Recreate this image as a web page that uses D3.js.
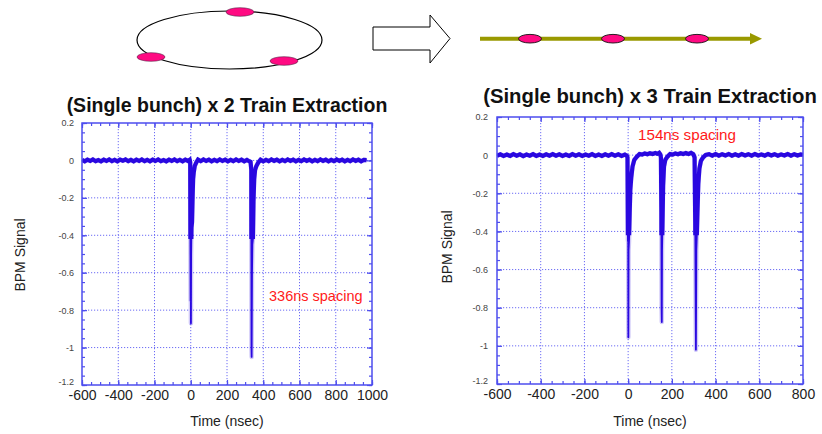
<!DOCTYPE html>
<html><head><meta charset="utf-8">
<script src="https://cdn.jsdelivr.net/npm/d3@7"></script>
<style>body{margin:0;background:#fff}svg{display:block}</style>
</head><body>
<svg id="c" width="822" height="434"></svg>
<script>
// ---- data ----
const leftXTicks = [-600,-400,-200,0,200,400,600,800,1000];
const rightXTicks = [-600,-400,-200,0,200,400,600,800];
const yTicks = [0.2,0,-0.2,-0.4,-0.6,-0.8,-1,-1.2];
const leftTitle = "(Single bunch) x 2 Train Extraction";
const rightTitle = "(Single bunch) x 3 Train Extraction";
const leftNote = "336ns spacing";
const rightNote = "154ns spacing";
const xLabel = "Time (nsec)";
const yLabel = "BPM Signal";

// BPM trace, 2-bunch train: [time ns, signal]
const leftTrace = [
[-600,0.003],[-585,-0.005],[-570,0.004],[-555,-0.003],[-540,0.005],[-525,-0.004],[-510,0.002],[-495,-0.005],
[-480,0.004],[-465,-0.003],[-450,0.005],[-435,-0.004],[-420,0.003],[-405,-0.005],[-390,0.004],[-375,-0.002],
[-360,0.005],[-345,-0.004],[-330,0.003],[-315,-0.005],[-300,0.004],[-285,-0.003],[-270,0.005],[-255,-0.004],
[-240,0.003],[-225,-0.005],[-210,0.004],[-195,-0.003],[-180,0.005],[-165,-0.004],[-150,0.002],[-135,-0.005],
[-120,0.004],[-105,-0.003],[-90,0.005],[-75,-0.004],[-60,0.003],[-45,-0.005],[-30,0.004],[-15,-0.003],[-6,0.003],[-3,-0.01],
[-1,-0.75],[0,-0.3],[1,-0.87],[2,-0.5],[4,-0.36],[7,-0.33],[10,-0.2],[13,-0.1],[17,-0.06],[22,-0.03],[30,-0.012],
[40,0.004],[55,-0.004],[70,0.005],[85,-0.003],[100,0.004],[115,-0.005],[130,0.003],[145,-0.004],[160,0.005],
[175,-0.003],[190,0.004],[205,-0.005],[220,0.003],[235,-0.004],[250,0.005],[265,-0.003],[280,0.004],[295,-0.005],
[310,0.003],[322,-0.004],[330,-0.008],
[334,-0.05],[335,-1.0],[336,-1.05],[338,-0.6],[340,-0.45],[343,-0.42],[346,-0.22],[350,-0.1],[355,-0.05],[362,-0.03],[372,-0.012],
[385,0.004],[400,-0.005],[415,0.003],[430,-0.004],[445,0.005],[460,-0.003],[475,0.004],[490,-0.005],[505,0.003],
[520,-0.004],[535,0.005],[550,-0.003],[565,0.004],[580,-0.005],[595,0.003],[610,-0.004],[625,0.005],[640,-0.003],
[655,0.004],[670,-0.005],[685,0.003],[700,-0.004],[715,0.005],[730,-0.003],[745,0.004],[760,-0.005],[775,0.003],
[790,-0.004],[805,0.005],[820,-0.003],[835,0.004],[850,-0.005],[865,0.003],[880,-0.004],[895,0.005],[910,-0.003],
[925,0.004],[940,-0.005],[955,0.003],[970,0.002]
];

// BPM trace, 3-bunch train: [time ns, signal]
const rightTrace = [
[-600,-0.003],[-585,0.004],[-570,-0.004],[-555,0.003],[-540,-0.004],[-525,0.005],[-510,-0.003],[-495,0.004],
[-480,-0.005],[-465,0.003],[-450,-0.003],[-435,0.005],[-420,-0.004],[-405,0.003],[-390,-0.004],[-375,0.004],
[-360,-0.003],[-345,0.005],[-330,-0.003],[-315,0.004],[-300,-0.004],[-285,0.003],[-270,-0.004],[-255,0.005],
[-240,-0.003],[-225,0.004],[-210,-0.004],[-195,0.003],[-180,-0.003],[-165,0.005],[-150,-0.004],[-135,0.003],
[-120,-0.004],[-105,0.004],[-90,-0.003],[-75,0.005],[-60,-0.003],[-45,0.004],[-30,-0.004],[-15,0.003],[-6,-0.003],[-3,-0.012],
[-1,-0.45],[0,-0.2],[1,-0.955],[2,-0.5],[4,-0.45],[7,-0.3],[10,-0.18],[14,-0.12],[20,-0.06],[28,-0.025],[40,-0.008],
[52,0.006],[64,0.003],[76,0.009],[88,0.005],[100,0.01],[112,0.006],[124,0.011],[134,0.007],[142,0.012],[147,0.004],[150,-0.012],
[152,-0.3],[153,-0.8],[154,-0.875],[155,-0.5],[157,-0.37],[160,-0.16],[164,-0.06],[170,-0.025],[180,-0.008],
[192,0.006],[204,0.003],[216,0.009],[228,0.005],[240,0.01],[252,0.006],[264,0.011],[276,0.006],[288,0.012],[298,0.005],[304,-0.012],
[307,-0.35],[309,-0.8],[310,-1.02],[312,-0.5],[314,-0.43],[317,-0.3],[321,-0.15],[326,-0.07],[333,-0.03],[343,-0.012],
[355,0.001],[370,0.005],[385,-0.003],[400,0.006],[415,-0.003],[430,0.005],[445,-0.002],[460,0.006],[475,-0.003],
[490,0.004],[505,-0.003],[520,0.006],[535,-0.002],[550,0.005],[565,-0.003],[580,0.006],[595,-0.002],[610,0.004],
[625,-0.003],[640,0.006],[655,-0.002],[670,0.005],[685,-0.003],[700,0.004],[715,-0.002],[730,0.006],[745,-0.003],
[760,0.005],[775,-0.002],[790,0.004],[800,0.002]
];

// ---- drawing ----
const svg = d3.select("#c");
const FRAME = "#4d4dee", GRID = "#6c6cf5", TRACE = "#2a08e0";
const font = "Arial, 'Liberation Sans', sans-serif";

// top diagram: ring with 3 bunches
const diag = svg.append("g");
diag.append("ellipse").attr("cx",229.5).attr("cy",40).attr("rx",92.5).attr("ry",29)
  .attr("fill","none").attr("stroke","#000").attr("stroke-width",1.2);
[[240,12],[151,57],[284,61]].forEach(p=>{
  diag.append("ellipse").attr("cx",p[0]).attr("cy",p[1]).attr("rx",14).attr("ry",4.3)
    .attr("fill","#ff0a82").attr("stroke","#552244").attr("stroke-width",0.6);
});
diag.append("path").attr("d","M373,27 L430,27 L430,15 L450,38.5 L430,63 L430,50 L373,50 Z")
  .attr("fill","#fff").attr("stroke","#000").attr("stroke-width",1);
diag.append("line").attr("x1",480).attr("x2",752).attr("y1",38.7).attr("y2",38.7)
  .attr("stroke","#999900").attr("stroke-width",4);
diag.append("path").attr("d","M750,33 L762,38.7 L750,44.5 Z").attr("fill","#999900");
[530,613,697].forEach(cx=>{
  diag.append("ellipse").attr("cx",cx).attr("cy",38.7).attr("rx",11.5).attr("ry",4.3)
    .attr("fill","#ff0a82").attr("stroke","#111").attr("stroke-width",0.9);
});

const defs = svg.append("defs");
function fmtY(d){ return String(+d.toFixed(1)); }

function panel(cfg, id){
  const g = svg.append("g");
  const x = d3.scaleLinear().domain([cfg.xTicks[0], cfg.xTicks[cfg.xTicks.length-1]]).range([cfg.x0, cfg.x1]);
  const y = d3.scaleLinear().domain([-1.2, 0.2]).range([cfg.yb, cfg.yt]);

  const gx = cfg.xTicks.slice(1,-1), gy = yTicks.slice(1,-1);
  g.selectAll(".gx").data(gx).join("line")
    .attr("x1",d=>x(d)).attr("x2",d=>x(d)).attr("y1",cfg.yt).attr("y2",cfg.yb)
    .attr("stroke",GRID).attr("stroke-width",1).attr("stroke-dasharray","1.2,1.8");
  g.selectAll(".gy").data(gy).join("line")
    .attr("x1",cfg.x0).attr("x2",cfg.x1).attr("y1",d=>y(d)).attr("y2",d=>y(d))
    .attr("stroke",GRID).attr("stroke-width",1).attr("stroke-dasharray","1.2,1.8");

  const xMinor = d3.range(cfg.xTicks[0], cfg.xTicks[cfg.xTicks.length-1]+1, 50);
  const yMinor = d3.range(-1.2, 0.2001, 0.05);

  const styleAxis = sel => {
    sel.select(".domain").remove();
    sel.selectAll(".tick line").attr("stroke",FRAME).attr("stroke-width",1.2);
  };
  g.append("g").attr("transform",`translate(0,${cfg.yb})`)
    .call(d3.axisBottom(x).tickValues(cfg.xTicks).tickSizeInner(-5).tickSizeOuter(0).tickPadding(5.5).tickFormat(d=>String(d)))
    .call(styleAxis)
    .call(s=>s.selectAll("text").attr("font-family",font).attr("font-size",14).attr("fill","#222"));
  g.append("g").attr("transform",`translate(0,${cfg.yb})`)
    .call(d3.axisBottom(x).tickValues(xMinor).tickSizeInner(-3).tickSizeOuter(0).tickFormat(""))
    .call(styleAxis);
  g.append("g").attr("transform",`translate(0,${cfg.yt})`)
    .call(d3.axisTop(x).tickValues(cfg.xTicks).tickSizeInner(-5).tickSizeOuter(0).tickFormat(""))
    .call(styleAxis);
  g.append("g").attr("transform",`translate(0,${cfg.yt})`)
    .call(d3.axisTop(x).tickValues(xMinor).tickSizeInner(-3).tickSizeOuter(0).tickFormat(""))
    .call(styleAxis);
  g.append("g").attr("transform",`translate(${cfg.x0},0)`)
    .call(d3.axisLeft(y).tickValues(yTicks).tickSizeInner(-5).tickSizeOuter(0).tickPadding(cfg.ypad).tickFormat(fmtY))
    .call(styleAxis)
    .call(s=>s.selectAll("text").attr("font-family",font).attr("font-size",9).attr("fill","#444"))
    .call(s=>s.selectAll(".tick").filter(d=>d===-1.2).select("text").attr("dy","-0.05em"));
  g.append("g").attr("transform",`translate(${cfg.x0},0)`)
    .call(d3.axisLeft(y).tickValues(yMinor).tickSizeInner(-3).tickSizeOuter(0).tickFormat(""))
    .call(styleAxis);
  g.append("g").attr("transform",`translate(${cfg.x1},0)`)
    .call(d3.axisRight(y).tickValues(yTicks).tickSizeInner(-5).tickSizeOuter(0).tickFormat(""))
    .call(styleAxis);
  g.append("g").attr("transform",`translate(${cfg.x1},0)`)
    .call(d3.axisRight(y).tickValues(yMinor).tickSizeInner(-3).tickSizeOuter(0).tickFormat(""))
    .call(styleAxis);

  // clip: thick trace only in upper part (baseline band and top of pulses)
  defs.append("clipPath").attr("id","clip"+id).append("rect")
    .attr("x",cfg.x0).attr("y",cfg.yt).attr("width",cfg.x1-cfg.x0).attr("height",y(-0.42)-cfg.yt);

  const line = d3.line().x(d=>x(d[0])).y(d=>y(d[1]));
  g.append("path").datum(cfg.trace).attr("d",line).attr("fill","none")
    .attr("stroke",TRACE).attr("stroke-opacity",0.22).attr("stroke-width",4.5).attr("stroke-linejoin","round");
  g.append("path").datum(cfg.trace).attr("d",line).attr("fill","none")
    .attr("clip-path",`url(#clip${id})`)
    .attr("stroke",TRACE).attr("stroke-width",4.2).attr("stroke-linejoin","miter");
  g.append("path").datum(cfg.trace).attr("d",line).attr("fill","none")
    .attr("stroke",TRACE).attr("stroke-width",1.8).attr("stroke-linejoin","round");

  g.append("rect").attr("x",cfg.x0).attr("y",cfg.yt).attr("width",cfg.x1-cfg.x0).attr("height",cfg.yb-cfg.yt)
    .attr("fill","none").attr("stroke",FRAME).attr("stroke-width",1.5);

  svg.append("text").attr("x",cfg.tx).attr("y",cfg.ty).attr("text-anchor","middle")
    .attr("font-family",font).attr("font-weight","bold").attr("font-size",cfg.tsize).attr("fill","#111").text(cfg.title);
  svg.append("text").attr("x",cfg.xlx).attr("y",426).attr("text-anchor","middle")
    .attr("font-family",font).attr("font-size",14).attr("fill","#222").text(xLabel);
  svg.append("text").attr("transform",`translate(${cfg.ylx},${cfg.yly}) rotate(-90)`).attr("text-anchor","middle")
    .attr("font-family",font).attr("font-size",14).attr("fill","#222").text(yLabel);
  svg.append("text").attr("x",cfg.nx).attr("y",cfg.ny)
    .attr("font-family",font).attr("font-size",cfg.nsize).attr("fill","#ff1a1a").text(cfg.note);
}

panel({trace:leftTrace, xTicks:leftXTicks, x0:82, x1:372, yt:123, yb:385, ypad:8,
  title:leftTitle, tx:227, ty:112, tsize:19.5, xlx:227, ylx:25, yly:255,
  note:leftNote, nx:269, ny:301, nsize:14.5}, "L");
panel({trace:rightTrace, xTicks:rightXTicks, x0:497, x1:803, yt:117, yb:384, ypad:9,
  title:rightTitle, tx:650, ty:103, tsize:20.3, xlx:650, ylx:452, yly:247,
  note:rightNote, nx:638, ny:140, nsize:15.2}, "R");
</script>
</body></html>
